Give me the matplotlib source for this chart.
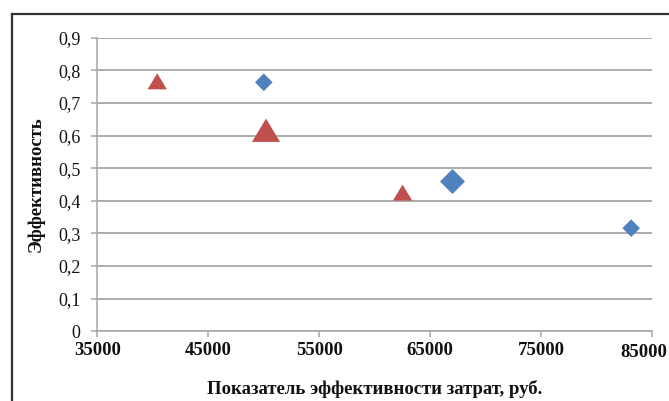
import matplotlib.pyplot as plt
from matplotlib.lines import Line2D

# данные
blue_x = [50000, 67000, 83100]
blue_y = [0.763, 0.459, 0.316]
red_x = [40400, 50200, 62500]
red_y = [0.766, 0.616, 0.425]

x_ticks = [35000, 45000, 55000, 65000, 75000, 85000]
y_ticks = [0, 0.1, 0.2, 0.3, 0.4, 0.5, 0.6, 0.7, 0.8, 0.9]
y_ticklabels = ["0", "0,1", "0,2", "0,3", "0,4", "0,5", "0,6", "0,7", "0,8", "0,9"]

# размеры маркеров (пт)
blue_ms = [12.7, 18.0, 12.7]
red_ms = [13.9, 20.2, 13.9]

plt.rcParams['font.family'] = ['Liberation Serif', 'DejaVu Serif']
text_color = "#111111"
grid_color = "#a6a6a6"

fig = plt.figure(figsize=(6.69, 4.01), dpi=100)
ax = fig.add_axes([97.3 / 669, 1 - 331.3 / 401, (652.3 - 97.3) / 669, (331.3 - 37.6) / 401])

diamond = [(0, 1), (1, 0), (0, -1), (-1, 0), (0, 1)]
triangle = [(0, 0.83), (1, -0.83), (-1, -0.83), (0, 0.83)]

ax.scatter(blue_x, blue_y, s=[m ** 2 for m in blue_ms], marker=diamond,
           color="#4f81bd", linewidths=0, zorder=3, clip_on=False)
ax.scatter(red_x, red_y, s=[m ** 2 for m in red_ms], marker=triangle,
           color="#c0504d", linewidths=0, zorder=3, clip_on=False)

ax.set_xlim(35000, 85000)
ax.set_ylim(0, 0.9)
ax.set_xticks(x_ticks)
# последняя подпись рисуется отдельно, со сдвигом влево
ax.set_xticklabels([str(v) for v in x_ticks[:-1]] + [""], fontsize=13.5,
                   fontweight="bold", color=text_color)
ax.annotate(str(x_ticks[-1]), xy=(x_ticks[-1], 0), xycoords="data",
            xytext=(-6, -9), textcoords="offset points", ha="center", va="top",
            fontsize=13.5, fontweight="bold", color=text_color, annotation_clip=False)
ax.set_yticks(y_ticks)
ax.set_yticklabels(y_ticklabels, fontsize=13, color=text_color)

ax.grid(axis="y", color=grid_color, linewidth=1.3)
ax.set_axisbelow(True)
for side in ["top", "right"]:
    ax.spines[side].set_visible(False)
for side in ["left", "bottom"]:
    ax.spines[side].set_color(grid_color)
    ax.spines[side].set_linewidth(1.1)
ax.tick_params(axis="both", color=grid_color, length=4, width=1.1)
ax.tick_params(axis="y", pad=8)
ax.tick_params(axis="x", pad=4)

ax.set_xlabel("Показатель эффективности затрат, руб.", fontsize=13.5, fontweight="bold",
              color=text_color, labelpad=15)
ax.set_ylabel("Эффективность", fontsize=13.5, fontweight="bold", color=text_color, labelpad=10)

# рамка диаграммы
fig.add_artist(Line2D([12 / 669, 12 / 669], [0, 1 - 14 / 401], transform=fig.transFigure,
                      color="#333333", linewidth=1.6))
fig.add_artist(Line2D([12 / 669, 1], [1 - 14 / 401, 1 - 14 / 401], transform=fig.transFigure,
                      color="#333333", linewidth=1.6))

fig.savefig("out.png", dpi=100)
